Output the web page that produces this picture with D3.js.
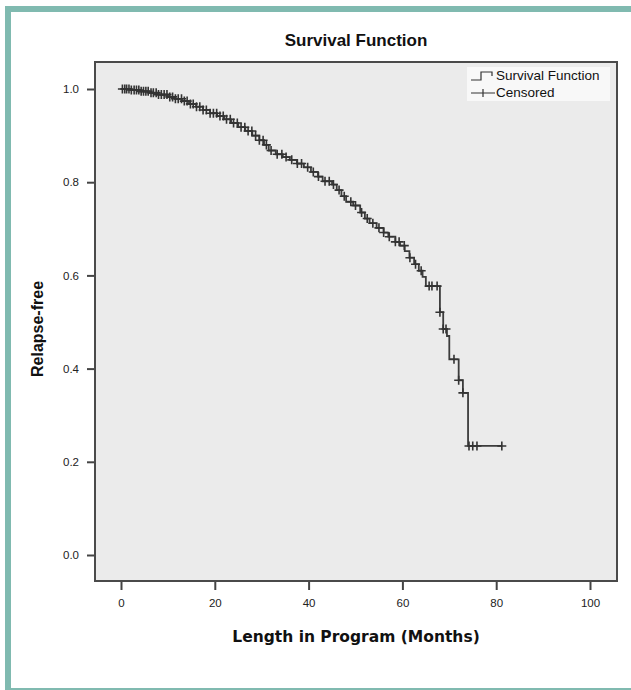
<!DOCTYPE html>
<html>
<head>
<meta charset="utf-8">
<script src="https://cdn.jsdelivr.net/npm/d3@7"></script>
<style>
  body { margin: 0; background: #fff; }
  svg { display: block; }
</style>
</head>
<body>
<svg width="631" height="690"></svg>
<script>
// step points of the Kaplan-Meier curve: [month, survival from that month on]
const stepTimes = [0, 2, 4, 6, 8, 10, 11.5, 13, 14.5, 16, 17.5, 19, 20.5, 22, 23.5, 25, 26.5, 28, 29.5, 30.5,
  31.5, 33, 34.5, 36, 37.5, 39, 40.5, 42, 43, 45, 46, 47, 48, 49.5, 51, 52, 53, 54.5, 56, 57,
  58.5, 59.5, 60.5, 61.5, 62.5, 63.5, 64.3, 65, 68, 68.7, 69.5, 70, 72, 72.9, 74];
const stepSurv = [1.0, 0.998, 0.995, 0.992, 0.988, 0.983, 0.979, 0.974, 0.968, 0.962, 0.955, 0.948, 0.942, 0.935, 0.927, 0.918, 0.91, 0.9, 0.89, 0.88,
  0.868, 0.86, 0.854, 0.848, 0.84, 0.832, 0.822, 0.812, 0.802, 0.795, 0.783, 0.77, 0.758, 0.75, 0.735, 0.722, 0.712, 0.702, 0.692, 0.683,
  0.672, 0.664, 0.652, 0.638, 0.624, 0.61, 0.597, 0.577, 0.521, 0.485, 0.47, 0.42, 0.375, 0.348, 0.234];
// censored cases (months)
const censorTimes = [0.3, 0.8, 1.2, 1.7, 2.2, 2.8, 3.3, 3.8, 4.3, 4.8, 5.3, 5.8, 6.4, 6.9, 7.5, 8, 8.6, 9.2, 9.8, 10.4,
  11, 11.6, 12.2, 12.9, 13.5, 14.1, 14.8, 15.4, 16.1, 16.8, 17.5, 18.2, 19, 19.7, 20.4, 21.1, 21.8, 22.5, 23.3, 24,
  24.8, 25.6, 26.4, 27.1, 27.9, 28.7, 29.5, 30.3, 31, 32, 33.3, 34.3, 35.2, 36.4, 37.6, 38.5, 39.8, 41, 42.1, 43.5,
  44.4, 45.3, 46.5, 47.6, 49, 50, 51.3, 52.5, 53.7, 55, 56, 57.2, 58.5, 59.3, 60.4, 61.6, 62.8, 64, 65.7, 66.3,
  67.4, 68, 68.7, 69.3, 71, 72, 72.9, 74.2, 75, 75.9, 81.2];
const lastTime = 81.2;
const xTicks = [0, 20, 40, 60, 80, 100];
const yTicks = [0, 0.2, 0.4, 0.6, 0.8, 1.0];

const svg = d3.select("svg");
const teal = "#80bab0";

// page frame
svg.append("rect").attr("x", 5).attr("y", 6).attr("width", 626).attr("height", 6).attr("fill", teal);
svg.append("rect").attr("x", 5).attr("y", 6).attr("width", 6).attr("height", 684).attr("fill", teal);
svg.append("rect").attr("x", 5).attr("y", 688).attr("width", 626).attr("height", 2).attr("fill", teal);

const x = d3.scaleLinear().domain([0, 100]).range([121, 590]);
const y = d3.scaleLinear().domain([0, 1]).range([555, 89]);

// plot panel
svg.append("rect")
  .attr("x", 95).attr("y", 62).attr("width", 522).attr("height", 519)
  .attr("fill", "#ebebeb").attr("stroke", "#4a4a4a").attr("stroke-width", 2);

svg.append("text")
  .attr("x", 356).attr("y", 46)
  .attr("text-anchor", "middle")
  .style("font", "bold 17px 'Liberation Sans', Arial, sans-serif")
  .attr("fill", "#111")
  .text("Survival Function");

// axes
const yAxis = svg.append("g")
  .attr("transform", "translate(94,0)")
  .call(d3.axisLeft(y).tickValues(yTicks).tickFormat(d3.format(".1f")).tickSize(7).tickPadding(8));
const xAxis = svg.append("g")
  .attr("transform", "translate(0,582)")
  .call(d3.axisBottom(x).tickValues(xTicks).tickSize(8).tickPadding(9));
[xAxis, yAxis].forEach(a => {
  a.select(".domain").remove();
  a.selectAll("line").attr("stroke", "#444").attr("stroke-width", 2);
  a.selectAll("text").attr("fill", "#222").style("font", "11.5px 'Liberation Sans', Arial, sans-serif");
});

svg.append("text")
  .attr("x", 356).attr("y", 642)
  .attr("text-anchor", "middle")
  .style("font", "bold 15.5px 'DejaVu Sans', sans-serif")
  .attr("fill", "#111")
  .text("Length in Program (Months)");

svg.append("text")
  .attr("transform", "translate(43,329) rotate(-90)")
  .attr("text-anchor", "middle")
  .style("font", "bold 16px 'Liberation Sans', Arial, sans-serif")
  .attr("fill", "#111")
  .text("Relapse-free");

// survival curve
const pts = stepTimes.map((t, i) => [t, stepSurv[i]]);
pts.push([lastTime, stepSurv[stepSurv.length - 1]]);
const line = d3.line().x(d => x(d[0])).y(d => y(d[1])).curve(d3.curveStepAfter);
svg.append("path")
  .attr("d", line(pts))
  .attr("fill", "none").attr("stroke", "#3c3c3c").attr("stroke-width", 1.8);

function survAt(t) {
  let s = stepSurv[0];
  for (let i = 0; i < stepTimes.length; i++) if (stepTimes[i] <= t) s = stepSurv[i];
  return s;
}

svg.append("g").selectAll("path")
  .data(censorTimes)
  .enter()
  .append("path")
  .attr("transform", d => "translate(" + x(d) + "," + y(survAt(d)) + ")")
  .attr("d", "M-4.5,0H4.5M0,-4.5V4.5")
  .attr("stroke", "#333").attr("stroke-width", 1.6).attr("fill", "none");

// legend
const lg = svg.append("g");
lg.append("rect").attr("x", 467).attr("y", 67).attr("width", 143).attr("height", 34).attr("fill", "#f8f8f8");
lg.append("path").attr("d", "M471,80H481V72H492V76").attr("fill", "none").attr("stroke", "#333").attr("stroke-width", 1.2);
lg.append("path").attr("d", "M471,93H495M483,89V97").attr("fill", "none").attr("stroke", "#333").attr("stroke-width", 1.2);
lg.append("text").attr("x", 496).attr("y", 80).text("Survival Function")
  .style("font", "13.5px 'Liberation Sans', Arial, sans-serif").attr("fill", "#111");
lg.append("text").attr("x", 496).attr("y", 97).text("Censored")
  .style("font", "13.5px 'Liberation Sans', Arial, sans-serif").attr("fill", "#111");
</script>
</body>
</html>
